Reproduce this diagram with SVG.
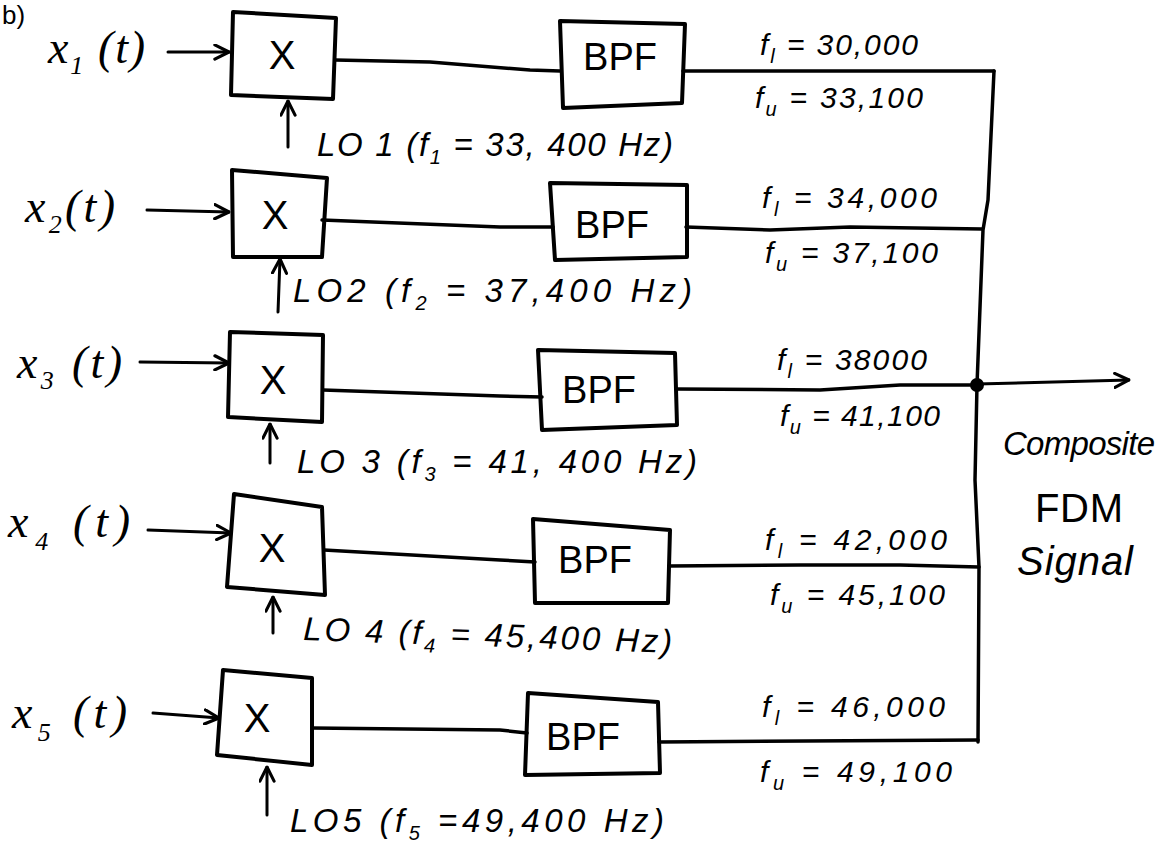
<svg xmlns="http://www.w3.org/2000/svg" width="1159" height="863" viewBox="0 0 1159 863">
<style>
.bx{fill:none;stroke:#000;stroke-width:4;stroke-linejoin:round}
.ln{fill:none;stroke:#000;stroke-width:3.5;stroke-linecap:round;stroke-linejoin:round}
.ar{fill:none;stroke:#000;stroke-width:3;stroke-linecap:round;marker-end:url(#ah)}
.t{font-family:"Liberation Sans",Arial,sans-serif;fill:#000}
.mx{font-family:"Liberation Sans",Arial,sans-serif;font-size:40px;text-anchor:middle;fill:#000}
.bp{font-family:"Liberation Sans",Arial,sans-serif;font-size:38px;text-anchor:middle;fill:#000}
.xl{font-family:"Liberation Serif","Times New Roman",serif;font-style:italic;font-size:46px;fill:#000}
.fl{font-family:"Liberation Sans",Arial,sans-serif;font-style:italic;font-size:30px;fill:#000}
.lo{font-family:"Liberation Sans",Arial,sans-serif;font-style:italic;font-size:33px;fill:#000}
.cs{font-family:"Liberation Sans",Arial,sans-serif;font-style:italic;font-size:33px;fill:#000}
</style>
<defs>
<marker id="ah" viewBox="0 0 12 12" refX="11" refY="6" markerWidth="17" markerHeight="17" markerUnits="userSpaceOnUse" orient="auto">
<path d="M1,1 L11,6 L1,11" fill="none" stroke="#000" stroke-width="2.2" stroke-linecap="round" stroke-linejoin="round"/>
</marker>
</defs>
<rect width="1159" height="863" fill="#fff"/>

<text class="t" x="2" y="24" font-size="26">b)</text>

<!-- input labels -->
<g id="in1"><text class="xl" x="48" y="63" textLength="97">x<tspan dy="11" font-size="26">1</tspan><tspan dy="-11"> (t)</tspan></text></g>
<g id="in2"><text class="xl" x="25" y="222" textLength="90">x<tspan dy="11" font-size="26">2</tspan><tspan dy="-11">(t)</tspan></text></g>
<g id="in3"><text class="xl" x="17" y="378" textLength="105">x<tspan dy="11" font-size="26">3</tspan><tspan dy="-11"> (t)</tspan></text></g>
<g id="in4"><text class="xl" x="8" y="537" textLength="122">x<tspan dy="13" font-size="26">4</tspan><tspan dy="-13"> (t)</tspan></text></g>
<g id="in5"><text class="xl" x="12" y="728" textLength="115">x<tspan dy="13" font-size="26">5</tspan><tspan dy="-13"> (t)</tspan></text></g>

<!-- mixers -->
<g id="mixer1"><polygon class="bx" points="233,12 336,18 333,99 231,95"/><text class="mx" x="282" y="69">X</text></g>
<g id="mixer2"><polygon class="bx" points="232,170 327,178 322,257 233,257"/><text class="mx" x="275" y="229">X</text></g>
<g id="mixer3"><polygon class="bx" points="230,332 323,335 322,422 228,417"/><text class="mx" x="273" y="394">X</text></g>
<g id="mixer4"><polygon class="bx" points="234,494 322,507 325,595 227,587"/><text class="mx" x="272" y="562">X</text></g>
<g id="mixer5"><polygon class="bx" points="223,670 312,678 312,765 217,755"/><text class="mx" x="257" y="732">X</text></g>

<!-- LO labels -->
<g id="lo1"><text class="lo" x="317" y="156" textLength="356">LO 1 (f<tspan dy="8" font-size="20">1</tspan><tspan dy="-8"> = 33, 400 Hz)</tspan></text></g>
<g id="lo2"><text class="lo" x="293" y="302" textLength="399">LO2 (f<tspan dy="8" font-size="20">2</tspan><tspan dy="-8"> = 37,400 Hz)</tspan></text></g>
<g id="lo3"><text class="lo" x="297" y="473" textLength="400">LO 3 (f<tspan dy="8" font-size="20">3</tspan><tspan dy="-8"> = 41, 400 Hz)</tspan></text></g>
<g id="lo4"><text class="lo" x="303" y="640" textLength="369" transform="rotate(2 303 640)">LO 4 (f<tspan dy="8" font-size="20">4</tspan><tspan dy="-8"> = 45,400 Hz)</tspan></text></g>
<g id="lo5"><text class="lo" x="290" y="832" textLength="374">LO5 (f<tspan dy="8" font-size="20">5</tspan><tspan dy="-8"> =49,400 Hz)</tspan></text></g>

<!-- BPFs -->
<g id="bpf1"><polygon class="bx" points="560,21 685,24 682,103 563,108"/><text class="bp" x="620" y="70">BPF</text></g>
<g id="bpf2"><polygon class="bx" points="550,183 687,185 687,257 555,260"/><text class="bp" x="612" y="238">BPF</text></g>
<g id="bpf3"><polygon class="bx" points="538,350 675,353 677,425 542,430"/><text class="bp" x="599" y="403">BPF</text></g>
<g id="bpf4"><polygon class="bx" points="533,519 670,530 668,603 535,603"/><text class="bp" x="595" y="573">BPF</text></g>
<g id="bpf5"><polygon class="bx" points="528,693 658,702 660,773 525,775"/><text class="bp" x="583" y="750">BPF</text></g>

<!-- band labels -->
<g id="band1">
<text class="fl" x="760" y="55" textLength="158">f<tspan dy="8" font-size="20">l</tspan><tspan dy="-8"> = 30,000</tspan></text>
<text class="fl" x="755" y="108" textLength="168">f<tspan dy="8" font-size="20">u</tspan><tspan dy="-8"> = 33,100</tspan></text>
</g>
<g id="band2">
<text class="fl" x="762" y="208" textLength="175">f<tspan dy="8" font-size="20">l</tspan><tspan dy="-8"> = 34,000</tspan></text>
<text class="fl" x="765" y="263" textLength="173">f<tspan dy="8" font-size="20">u</tspan><tspan dy="-8"> = 37,100</tspan></text>
</g>
<g id="band3">
<text class="fl" x="777" y="370" textLength="150">f<tspan dy="8" font-size="20">l</tspan><tspan dy="-8"> = 38000</tspan></text>
<text class="fl" x="780" y="426" textLength="160">f<tspan dy="8" font-size="20">u</tspan><tspan dy="-8"> = 41,100</tspan></text>
</g>
<g id="band4">
<text class="fl" x="765" y="550" textLength="182">f<tspan dy="8" font-size="20">l</tspan><tspan dy="-8"> = 42,000</tspan></text>
<text class="fl" x="770" y="605" textLength="175">f<tspan dy="8" font-size="20">u</tspan><tspan dy="-8"> = 45,100</tspan></text>
</g>
<g id="band5">
<text class="fl" x="762" y="717" textLength="183">f<tspan dy="8" font-size="20">l</tspan><tspan dy="-8"> = 46,000</tspan></text>
<text class="fl" x="760" y="782" textLength="192">f<tspan dy="8" font-size="20">u</tspan><tspan dy="-8"> = 49,100</tspan></text>
</g>

<!-- output label -->
<g id="output">
<text class="cs" x="1003" y="455" textLength="152">Composite</text>
<text class="cs" x="1035" y="522" textLength="88" style="font-style:normal;font-size:40px">FDM</text>
<text class="cs" x="1017" y="575" textLength="116" style="font-size:40px">Signal</text>
</g>

<!-- connectors -->
<g id="connectors">
<path class="ar" d="M168,52 L229,52"/>
<path class="ar" d="M147,210 L229,212"/>
<path class="ar" d="M140,362 L229,363"/>
<path class="ar" d="M148,530 L231,533"/>
<path class="ar" d="M153,713 L219,718"/>

<path class="ar" d="M288,147 L288,101"/>
<path class="ar" d="M278,312 L280,259"/>
<path class="ar" d="M270,463 L270,424"/>
<path class="ar" d="M273,633 L273,597"/>
<path class="ar" d="M267,815 L267,767"/>

<path class="ln" d="M335,60 L430,62 L530,70 L560,71"/>
<path class="ln" d="M322,220 L500,227 L553,227"/>
<path class="ln" d="M323,390 L500,396 L542,397"/>
<path class="ln" d="M324,550 L500,560 L535,562"/>
<path class="ln" d="M312,728 L500,730 L527,733"/>

<path class="ln" d="M683,71 L994,71"/>
<path class="ln" d="M686,227 L770,230 L850,227 L982,229"/>
<path class="ln" d="M676,389 L820,390 L900,385 L977,385"/>
<path class="ln" d="M669,566 L800,565 L900,565 L979,567"/>
<path class="ln" d="M659,742 L978,740"/>

<path class="ln" d="M994,71 L988,200 L983,230 L977,385 L975,480 L979,567 L978,742"/>
<circle cx="977" cy="385" r="7" fill="#000"/>
<path class="ar" d="M977,384 L1129,380"/>
</g>
</svg>
